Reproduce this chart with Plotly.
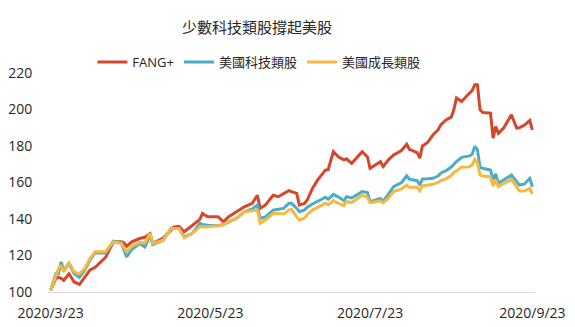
import plotly.graph_objects as go

dates = ["2020-03-23","2020-03-25","2020-03-26","2020-03-27","2020-03-28","2020-03-30","2020-04-01","2020-04-03","2020-04-05","2020-04-07",
         "2020-04-09","2020-04-11","2020-04-13","2020-04-15","2020-04-16","2020-04-19","2020-04-20","2020-04-21","2020-04-23","2020-04-26",
         "2020-04-28","2020-04-30","2020-05-01","2020-05-05","2020-05-08","2020-05-09","2020-05-11","2020-05-13","2020-05-16","2020-05-19",
         "2020-05-20","2020-05-22","2020-05-26","2020-05-28","2020-05-30","2020-06-02","2020-06-05","2020-06-08","2020-06-10","2020-06-11",
         "2020-06-13","2020-06-16","2020-06-18","2020-06-20","2020-06-22","2020-06-23","2020-06-25","2020-06-26","2020-06-28","2020-06-29",
         "2020-07-01","2020-07-03","2020-07-06","2020-07-07","2020-07-09","2020-07-11","2020-07-13","2020-07-14","2020-07-16","2020-07-20",
         "2020-07-22","2020-07-23","2020-07-25","2020-07-27","2020-07-28","2020-07-30","2020-08-01","2020-08-04","2020-08-06","2020-08-07",
         "2020-08-10","2020-08-11","2020-08-12","2020-08-14","2020-08-16","2020-08-18","2020-08-19","2020-08-21","2020-08-23","2020-08-24",
         "2020-08-25","2020-08-27","2020-08-29","2020-08-30","2020-08-31","2020-09-01","2020-09-02","2020-09-03","2020-09-04","2020-09-07",
         "2020-09-08","2020-09-09","2020-09-10","2020-09-12","2020-09-15","2020-09-17","2020-09-18","2020-09-19","2020-09-20","2020-09-22",
         "2020-09-23"]

fang = [101,107.5,108,107.5,106.4,110,105.5,104.2,108,112,
        113.5,116,119,124.7,127.5,127.5,127,125,127.5,129.3,
        130,132,126.7,129.5,134,135.5,136,133,136.3,139.8,
        143,141.2,141.2,138.5,141.2,144,146.7,148.6,153,145.8,
        147.6,153,152.2,154,155.5,155,154,147.6,148.5,150.4,
        156.8,161.4,166.9,167,176.9,174,172.4,173,170.5,176.9,
        174,167.8,169.6,171.4,168.7,172.4,175.1,177.5,181,178.2,
        176.4,173.3,180,181.9,186.1,188.8,191.6,194.3,195.8,199.8,
        206.3,204.4,207.5,209,210.4,213.6,213.6,199.8,198.4,198,
        184.3,190.7,187,189.8,197.1,189.8,190,190.7,191.5,194,
        188.8]

tech = [101,110,110,116.5,112,115.7,110,108,112,117.4,
        121.4,121.4,121.4,125.6,127.8,127,123,119.2,123.3,126.6,
        124.7,131,126,128.4,134.8,134.8,134.8,130.2,132,137.6,
        137,136.6,136.3,137,138.5,140.3,144,145.5,147.6,140.3,
        141.2,144.9,145.3,145.8,148.6,148.6,145.8,144,145,146.5,
        148.2,149.7,151.9,150.8,153.5,152,150,152.2,151.5,155,
        154.5,149.5,150.5,151.3,149.5,153.5,157.7,159.9,163.7,161.8,
        161,158.6,161.9,162,162.3,163.5,165.1,166.5,168.5,170,
        171.5,173.8,174.2,174.6,175.5,179.7,178,168.4,167.8,166.9,
        161.4,164.7,159.6,161.5,164.1,160.5,158.6,158.9,159.2,162.3,
        157.7]

growth = [101,108.2,112.8,114.7,111,116.2,111,110,112.8,118.3,
          122,122,122,126,127.5,126.6,124,122,125.1,127.1,
          127,132,126.6,128.4,134.8,134.8,134.8,129.7,132,135.7,
          135.7,135.7,136.3,137,138.5,140.3,144,144.5,144.9,137.6,
          139.4,143.1,142.9,142.7,144.9,145.3,141.2,139.4,140.5,142.5,
          144.9,146.5,148.6,147.8,150,148.5,147.3,149.5,149,153,
          152,148.9,149.5,150,148.9,151.5,155,156.5,158.6,157.3,
          157.5,155.5,158.2,158.5,159,160,161,162,163.8,165.4,
          166.5,168.4,168.5,168.7,169.5,172.7,171,164.1,163.5,163.2,
          158.1,161.4,157.7,159.3,161.8,157.5,155.5,155.4,155.3,156.8,
          153.7]

series_names = ["FANG+", "美國科技類股", "美國成長類股"]
series_colors = ["#D4472B", "#4BACC6", "#F5B843"]
tick_dates = ["2020-03-23", "2020-05-23", "2020-07-23", "2020-09-23"]
tick_text = ["2020/3/23", "2020/5/23", "2020/7/23", "2020/9/23"]
y_ticks = [100, 120, 140, 160, 180, 200, 220]

font_fam = "Open Sans, Noto Sans CJK TC, sans-serif"

fig = go.Figure()
for name, vals, col in zip(series_names, [fang, tech, growth], series_colors):
    fig.add_trace(go.Scatter(x=dates, y=vals, mode="lines", name=name,
                             line=dict(color=col, width=3)))

fig.update_layout(
    width=575, height=327,
    margin=dict(l=48, r=40, t=73, b=35),
    paper_bgcolor="white", plot_bgcolor="white",
    font=dict(family=font_fam, size=13, color="#262626"),
    title=dict(text="少數科技類股撐起美股", x=0.447, xanchor="center", y=0.915, yanchor="middle",
               font=dict(family=font_fam, size=15, color="#262626")),
    legend=dict(orientation="h", x=0.433, xanchor="center", y=1.05, yanchor="middle",
                font=dict(size=13, color="#262626"), itemwidth=30,
                bgcolor="rgba(0,0,0,0)"),
    xaxis=dict(type="date", range=["2020-03-22", "2020-09-24"],
               tickvals=tick_dates, ticktext=tick_text, automargin=False,
               showgrid=False, zeroline=False,
               showline=True, linecolor="#D9D9D9", linewidth=1,
               ticks="outside", ticklen=8, tickcolor="rgba(0,0,0,0)",
               tickfont=dict(size=14, color="#262626")),
    yaxis=dict(range=[100, 220], tickvals=y_ticks, automargin=False,
               showgrid=False, zeroline=False, showline=False,
               ticks="outside", ticklen=12, tickcolor="rgba(0,0,0,0)",
               tickfont=dict(size=14, color="#262626")),
    showlegend=True,
)

fig.write_html("out.html")
